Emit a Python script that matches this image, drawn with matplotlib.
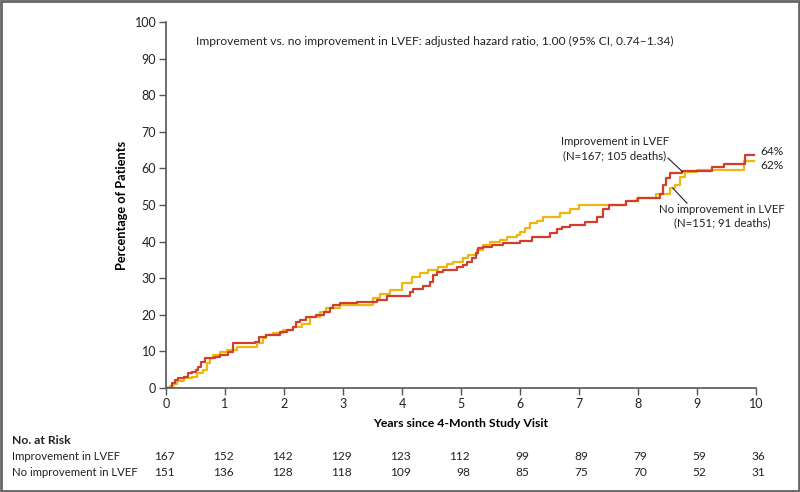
import matplotlib.pyplot as plt
import matplotlib.transforms as mtransforms
from matplotlib.patches import Rectangle

plt.rcParams['font.family'] = ['Lato', 'DejaVu Sans']

# Kaplan-Meier style cumulative curves (years, percent)
t_imp = [0, 0.1, 0.15, 0.2, 0.3, 0.37, 0.44, 0.5, 0.55, 0.6, 0.66, 0.83, 0.91, 1.05, 1.13,
         1.5, 1.57, 1.7, 1.93, 2.05, 2.16, 2.21, 2.27, 2.38, 2.55, 2.67, 2.78, 2.83, 2.95,
         3.24, 3.57, 3.74, 4.13, 4.19, 4.36, 4.47, 4.53, 4.59, 4.7, 4.93, 5.04, 5.1, 5.19,
         5.25, 5.29, 5.37, 5.52, 5.71, 6.0, 6.2, 6.5, 6.62, 6.72, 6.85, 7.1, 7.3, 7.4, 7.5,
         7.8, 8.0, 8.37, 8.42, 8.47, 8.54, 8.75, 9.25, 9.45, 9.82, 9.97]
y_imp = [0, 1.4, 2.2, 2.7, 3.0, 4.0, 4.4, 5.0, 5.8, 7.2, 8.2, 8.6, 9.0, 9.7, 12.2,
         12.7, 14.0, 14.5, 15.3, 15.8, 16.7, 18.0, 18.5, 19.5, 20.0, 20.8, 21.8, 22.6, 23.2,
         23.6, 24.0, 25.2, 26.2, 27.0, 28.0, 29.0, 30.9, 31.7, 32.2, 33.0, 33.6, 34.4, 35.5,
         36.8, 38.3, 38.6, 39.0, 39.5, 40.2, 41.2, 42.3, 43.4, 44.0, 44.5, 45.4, 46.8, 49.0, 50.0,
         51.0, 52.0, 53.0, 55.5, 57.5, 58.7, 59.3, 60.3, 61.3, 63.7, 63.7]

t_no = [0, 0.07, 0.12, 0.19, 0.3, 0.44, 0.52, 0.63, 0.69, 0.75, 0.8, 0.91, 1.03, 1.2, 1.54,
        1.65, 1.7, 1.82, 1.98, 2.16, 2.3, 2.44, 2.61, 2.72, 2.95, 3.5, 3.63, 3.8, 4.0, 4.17,
        4.3, 4.44, 4.61, 4.76, 4.86, 5.04, 5.12, 5.27, 5.37, 5.49, 5.66, 5.78, 5.95, 6.0, 6.08,
        6.17, 6.28, 6.39, 6.68, 6.85, 7.0, 7.8, 7.98, 8.3, 8.54, 8.62, 8.72, 8.8, 9.0, 9.8, 9.97]
y_no = [0, 0.5, 1.2, 1.8, 2.7, 3.0, 4.0, 4.9, 6.8, 8.2, 9.0, 9.8, 10.4, 11.2, 12.2,
        13.6, 14.5, 15.1, 15.8, 16.7, 17.5, 19.5, 20.8, 21.8, 22.6, 24.5, 25.6, 26.8, 28.6, 30.4,
        31.4, 32.2, 33.0, 34.0, 34.5, 35.5, 36.3, 37.7, 39.0, 39.9, 40.4, 41.2, 41.8, 42.6, 43.7,
        45.0, 45.6, 46.7, 47.8, 49.0, 50.0, 51.0, 52.0, 53.0, 54.6, 55.5, 57.7, 59.0, 59.6, 62.0, 62.0]

risk_years = list(range(11))
risk_imp = [167, 152, 142, 129, 123, 112, 99, 89, 79, 59, 36]
risk_no = [151, 136, 128, 118, 109, 98, 85, 75, 70, 52, 31]

RED = '#cf3f2b'
YELLOW = '#ecb80f'
AXC = '#555555'
TXT = '#222222'
FS = 8.2

fig = plt.figure(figsize=(8, 4.92), dpi=100)
ax = fig.add_axes([166/800, 1 - 388/492, 590/800, 366/492])

ax.step(t_no, y_no, where='post', color=YELLOW, lw=1.6)
ax.step(t_imp, y_imp, where='post', color=RED, lw=1.6)

ax.set_xlim(0, 10)
ax.set_ylim(0, 100)
ax.set_xticks(range(11))
ax.set_yticks(range(0, 101, 10))
for s in ['top', 'right']:
    ax.spines[s].set_visible(False)
for s in ['left', 'bottom']:
    ax.spines[s].set_color(AXC)
    ax.spines[s].set_linewidth(1.2)
ax.tick_params(colors=AXC, labelcolor=TXT, labelsize=9, length=5, width=1, direction='out', pad=2)

ax.set_xlabel('Years since 4-Month Study Visit', fontsize=8.8, fontweight='bold', labelpad=6)
ax.set_ylabel('Percentage of Patients', fontsize=9.2, fontweight='bold', labelpad=5)

ax.text(0.5, 94.8, 'Improvement vs. no improvement in LVEF: adjusted hazard ratio, 1.00 (95% CI, 0.74\u20131.34)',
        fontsize=8.65, color=TXT, ha='left', va='center')

ax.text(7.61, 65.4, 'Improvement in LVEF\n(N=167; 105 deaths)', fontsize=FS, color=TXT,
        ha='center', va='center', linespacing=1.3)
ax.plot([8.51, 8.76], [62.8, 59.0], color=TXT, lw=0.8)
ax.text(9.42, 46.9, 'No improvement in LVEF\n(N=151; 91 deaths)', fontsize=FS, color=TXT,
        ha='center', va='center', linespacing=1.3)
ax.plot([8.59, 8.83], [54.6, 50.5], color=TXT, lw=0.8)

ax.text(10.07, 64.5, '64%', fontsize=8.6, color=TXT, ha='left', va='center')
ax.text(10.07, 60.7, '62%', fontsize=8.6, color=TXT, ha='left', va='center')

# number at risk table
trans = mtransforms.blended_transform_factory(ax.transData, fig.transFigure)
trans_r = mtransforms.offset_copy(trans, fig=fig, x=9, y=0, units='dots')
fig.text(12/800, 1 - 440/492, 'No. at Risk', fontsize=FS + 0.5, fontweight='bold', color=TXT, va='center')
fig.text(12/800, 1 - 457/492, 'Improvement in LVEF', fontsize=FS, color=TXT, va='center')
fig.text(12/800, 1 - 472/492, 'No improvement in LVEF', fontsize=FS, color=TXT, va='center')
for yr, a, b in zip(risk_years, risk_imp, risk_no):
    ax.text(yr, 1 - 457/492, str(a), transform=trans_r, fontsize=8.6, color=TXT, ha='right', va='center')
    ax.text(yr, 1 - 472/492, str(b), transform=trans_r, fontsize=8.6, color=TXT, ha='right', va='center')

fig.patches.append(Rectangle((0.001, 0.002), 0.998, 0.996, transform=fig.transFigure,
                             fill=False, edgecolor='#666666', lw=2))

fig.savefig('out.png', dpi=100)
